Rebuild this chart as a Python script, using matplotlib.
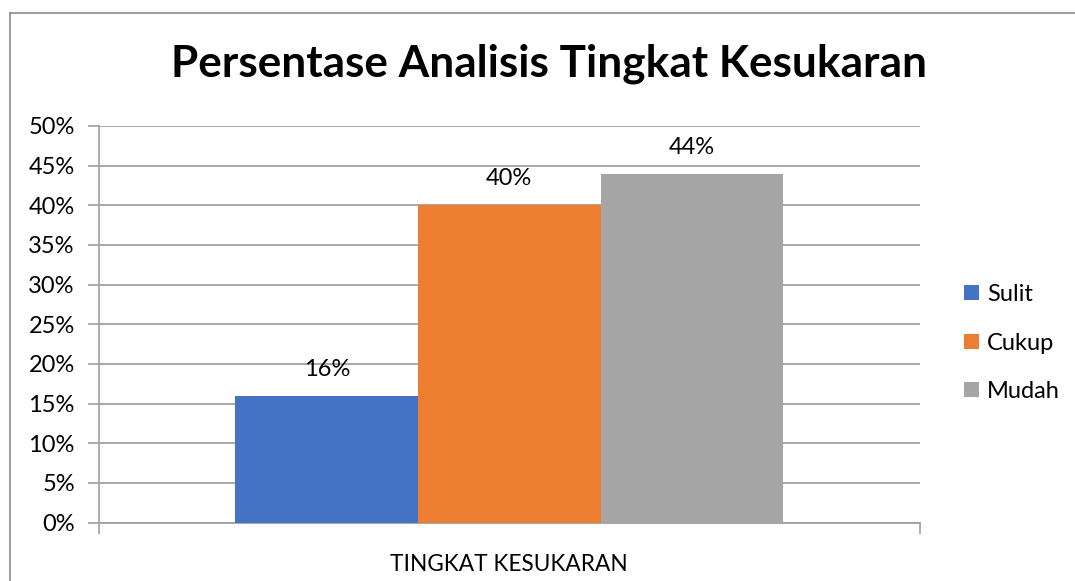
import matplotlib
matplotlib.use("Agg")
import matplotlib.pyplot as plt
from matplotlib.lines import Line2D
from matplotlib.patches import Patch
from matplotlib.ticker import FuncFormatter

plt.rcParams['font.family'] = ['Lato', 'DejaVu Sans']

title = "Persentase Analisis Tingkat Kesukaran"
category = "TINGKAT KESUKARAN"
series_names = ["Sulit", "Cukup", "Mudah"]
values = [16, 40, 44]
colors = ["#4472C4", "#ED7D31", "#A5A5A5"]
yticks = [0, 5, 10, 15, 20, 25, 30, 35, 40, 45, 50]

W, H = 1075, 581
fig = plt.figure(figsize=(W / 100, H / 100), dpi=100)
fig.patch.set_facecolor("white")

# outer chart border (top and left visible)
fig.add_artist(Line2D([10 / W, 1], [1 - 13 / H, 1 - 13 / H], color="#8c8c8c", lw=1.2, transform=fig.transFigure))
fig.add_artist(Line2D([10 / W, 10 / W], [0, 1 - 13 / H], color="#8c8c8c", lw=1.2, transform=fig.transFigure))

left, right = 98.5 / W, 920 / W
bottom, top = 1 - 522.5 / H, 1 - 126 / H
ax = fig.add_axes([left, bottom, right - left, top - bottom])

FS = 17
bw = 0.2222
offsets = [-bw, 0, bw]
for name, v, c, off in zip(series_names, values, colors, offsets):
    ax.bar(off, v, width=bw, color=c, label=name, zorder=3)
    ax.text(off, v + 2.0, f"{v}%", ha="center", va="bottom", fontsize=FS, color="#000000", zorder=4)

ax.set_xlim(-0.5, 0.5)
ax.set_ylim(0, 50)
ax.set_yticks(yticks)
ax.yaxis.set_major_formatter(FuncFormatter(lambda y, p: f"{int(y)}%"))
ax.tick_params(axis="y", length=8, width=1.2, color="#a0a0a0", pad=9, labelsize=FS, labelcolor="#000000")
ax.grid(axis="y", color="#a0a0a0", lw=1.3, zorder=0)

ax.set_xticks([0])
ax.set_xticklabels([category])
ax.set_xticks([-0.5, 0.5], minor=True)
ax.tick_params(axis="x", which="major", length=0, pad=23, labelsize=16.3, labelcolor="#000000")
ax.tick_params(axis="x", which="minor", length=8, width=1.2, color="#a0a0a0")

for s in ["top", "right"]:
    ax.spines[s].set_visible(False)
ax.spines["left"].set_color("#a0a0a0")
ax.spines["left"].set_linewidth(1.2)
ax.spines["bottom"].set_color("#a0a0a0")
ax.spines["bottom"].set_linewidth(1.3)

fig.text(549 / W, 1 - 64 / H, title, ha="center", va="center", fontsize=31.8, fontweight="bold", color="#000000")

handles = [Patch(facecolor=c, label=n) for n, c in zip(series_names, colors)]
fig.legend(handles=handles, loc="center left", bbox_to_anchor=(955 / W, 1 - 343 / H), frameon=False,
           fontsize=FS, handlelength=0.62, handleheight=0.62, handletextpad=0.35, labelspacing=1.17,
           borderaxespad=0)

fig.savefig("out.png", dpi=100, facecolor="white")
